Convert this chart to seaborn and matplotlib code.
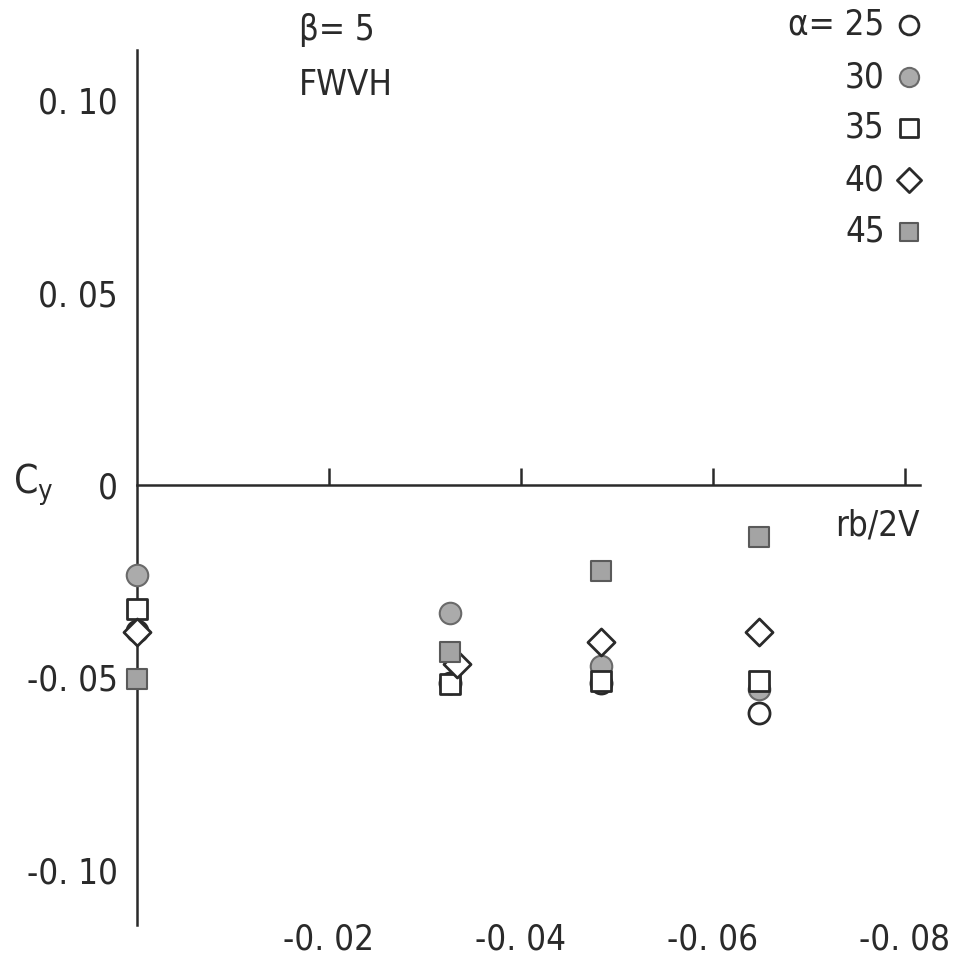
import matplotlib
matplotlib.use("Agg")
import matplotlib.pyplot as plt
import matplotlib.transforms as mtransforms
from matplotlib import font_manager
import seaborn as sns
import pandas as pd

# ---------------- data ----------------
alphas = [25, 30, 35, 40, 45]
rb_25 = [0.0, -0.0326, -0.0484, -0.0648]
cy_25 = [-0.0380, -0.0514, -0.0515, -0.0592]
rb_30 = [0.0, -0.0326, -0.0484, -0.0648]
cy_30 = [-0.0234, -0.0332, -0.0470, -0.0530]
rb_35 = [0.0, -0.0326, -0.0484, -0.0648]
cy_35 = [-0.0322, -0.0517, -0.0509, -0.0510]
rb_40 = [0.0, -0.0334, -0.0484, -0.0648]
cy_40 = [-0.0382, -0.0465, -0.0408, -0.0381]
rb_45 = [0.0, -0.0326, -0.0484, -0.0648]
cy_45 = [-0.0505, -0.0434, -0.0223, -0.0135]

xticks = [-0.02, -0.04, -0.06, -0.08]
xtick_labels = ["-0. 02", "-0. 04", "-0. 06", "-0. 08"]
yticks = [0.10, 0.05, 0.0, -0.05, -0.10]
ytick_labels = ["0. 10", "0. 05", "0", "-0. 05", "-0. 10"]

legend_labels = ["\u03b1= 25", "30", "35", "40", "45"]

# ---------------- style ----------------
sns.set_theme(style="white")
names = {f.name for f in font_manager.fontManager.ttflist}
if "Liberation Sans Narrow" in names:
    plt.rcParams["font.family"] = ["Liberation Sans Narrow", "DejaVu Sans"]
else:
    plt.rcParams["font.family"] = ["DejaVu Sans"]
    plt.rcParams["font.stretch"] = "condensed"
plt.rcParams["mathtext.default"] = "regular"

INK = "#2a2a2a"
FS = 25

styles = {
    25: dict(marker="o", s=230, color="white", edgecolor=INK, linewidth=2.0),
    30: dict(marker="o", s=240, color="#ababab", edgecolor="#6a6a6a", linewidth=1.5),
    35: dict(marker="s", s=200, color="white", edgecolor=INK, linewidth=2.0),
    40: dict(marker="D", s=190, color="white", edgecolor=INK, linewidth=2.0),
    45: dict(marker="s", s=210, color="#a4a4a4", edgecolor="#5a5a5a", linewidth=1.5),
}

series = {25: (rb_25, cy_25), 30: (rb_30, cy_30), 35: (rb_35, cy_35),
          40: (rb_40, cy_40), 45: (rb_45, cy_45)}

fig = plt.figure(figsize=(9.6, 9.55), dpi=100)
ax = fig.add_axes([137 / 960, 1 - 925 / 955, (920 - 137) / 960, (925 - 50) / 955])

for a in alphas:
    xs, ys = series[a]
    df = pd.DataFrame({"rb": xs, "cy": ys})
    sns.scatterplot(data=df, x="rb", y="cy", ax=ax, clip_on=False, zorder=3,
                    legend=False, **styles[a])

ax.set_xlim(0.0, -0.0816)
ax.set_ylim(-0.1143, 0.1130)
ax.set_xlabel("")
ax.set_ylabel("")

# spines
for sp in ["right", "bottom"]:
    ax.spines[sp].set_visible(False)
ax.spines["left"].set_color(INK)
ax.spines["left"].set_linewidth(1.8)
ax.spines["top"].set_position(("data", 0.0))
ax.spines["top"].set_color(INK)
ax.spines["top"].set_linewidth(1.8)

# x ticks: marks on zero line (top spine), labels at bottom
ax.set_xticks(xticks)
ax.set_xticklabels(xtick_labels, fontsize=FS, color=INK)
ax.tick_params(axis="x", which="both", top=True, bottom=False, labeltop=False,
               labelbottom=True, direction="out", length=12, width=1.8,
               color=INK, pad=-14)

ax.set_yticks(yticks)
ax.set_yticklabels(ytick_labels, fontsize=FS, color=INK)
ax.tick_params(axis="y", direction="in", length=17, width=1.8, color=INK, pad=14)

# axis titles
ytrans = mtransforms.blended_transform_factory(ax.transAxes, ax.transData)
ax.text(-0.158, 0.0, "C$_y$", transform=ytrans, fontsize=FS + 3, color=INK,
        ha="left", va="center")
ax.text(-0.0772, -0.0104, "rb/2V", fontsize=FS, color=INK, ha="center", va="center")

# annotations at top
ax.text(0.207, 1.023, "\u03b2= 5", transform=ax.transAxes, fontsize=FS, color=INK,
        ha="left", va="center")
ax.text(0.207, 0.960, "FWVH", transform=ax.transAxes, fontsize=FS, color=INK,
        ha="left", va="center")

# legend (manual, right aligned labels with markers to the right)
leg_y = [1.0286, 0.969, 0.911, 0.851, 0.792]
for a, lab, yy in zip(alphas, legend_labels, leg_y):
    ax.text(0.955, yy, lab, transform=ax.transAxes, fontsize=FS, color=INK,
            ha="right", va="center")
    st = dict(styles[a])
    ax.scatter([0.986], [yy], transform=ax.transAxes, clip_on=False, zorder=4,
               marker=st["marker"], s=st["s"] * 0.8, c=st["color"],
               edgecolors=st["edgecolor"], linewidths=st["linewidth"])

fig.savefig("out.png", dpi=100, facecolor="white")
